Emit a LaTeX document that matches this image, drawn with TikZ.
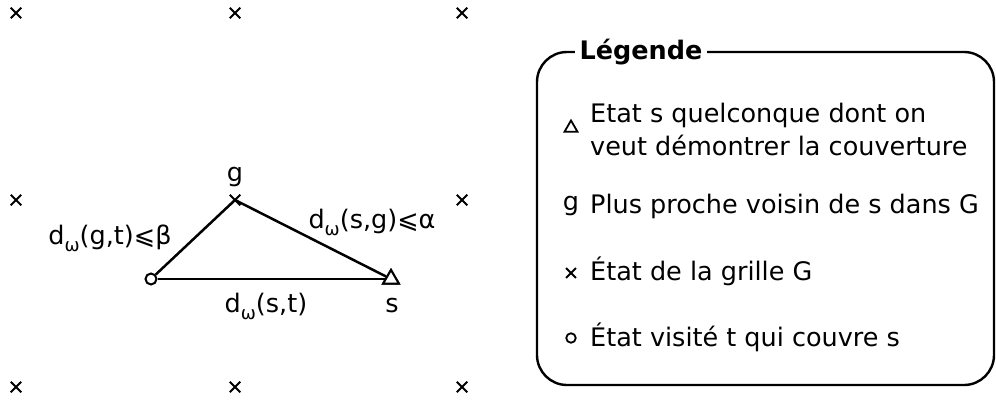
\documentclass[tikz,border=0pt]{standalone}
\usepackage{fontspec}
\setmainfont{DejaVu Sans}
\usetikzlibrary{shapes.misc,shapes.geometric}
\newcommand\dw{d\raisebox{-0.5ex}{\fontsize{18}{18}\selectfont ω}}
\tikzset{
  gridpt/.style={cross out,draw,line width=2pt,minimum size=8.5pt,inner sep=0pt},
  visited/.style={circle,draw,line width=2pt,fill=white,minimum size=11pt,inner sep=0pt},
  target/.style={regular polygon,regular polygon sides=3,draw,line width=2pt,fill=white,minimum size=18pt,inner sep=0pt},
  lbl/.style={font=\fontsize{25.5}{30}\selectfont,inner sep=0pt},
  edge/.style={line width=2.5pt},
}
\begin{document}
\begin{tikzpicture}[x=1pt,y=-1pt]
\useasboundingbox (0,0) rectangle (996,401);
% grid
\foreach \x/\i in {16/a,235/b,462/c}{
  \foreach \y/\j in {13/1,387/3}{
    \node[gridpt] (G\i\j) at (\x,\y) {};
  }
}
\node[gridpt] (Ga2) at (16,200) {};
\node[gridpt] (Gc2) at (462,200) {};
\node[gridpt] (g) at (235,200) {};
\node[visited] (t) at (151,279) {};
\node[target] (s) at (391,279) {};
\draw[edge] (t) -- (g.center) -- (s);
\draw[edge] (t) -- (s);
\node[target] at (s) {};
\node[lbl] (lg) at (235,177) {g};
\node[lbl] (ls) at (392,306) {s};
\node[lbl] (lst) at (266,306) {\dw(s,t)};
\node[lbl] (lgt) at (110,238) {\dw(g,t)⩽β};
\node[lbl] (lsg) at (372,222) {\dw(s,g)⩽α};
% legend
\draw[line width=2.4pt,rounded corners=30pt] (537,52) rectangle (994,385);
\node[lbl,fill=white,inner xsep=5pt,inner ysep=2pt,font=\fontsize{25.5}{30}\selectfont\bfseries] (title) at (641,52) {Légende};
\node[target,minimum size=15pt,line width=1.8pt] (k1) at (571,128) {};
\node[lbl,anchor=west,align=left,font=\fontsize{25.5}{33}\selectfont] (t1) at (590,129) {Etat s quelconque dont on\\veut démontrer la couverture};
\node[lbl] (k2) at (571,206) {g};
\node[lbl,anchor=west] (t2) at (590,206) {Plus proche voisin de s dans G};
\node[gridpt,minimum size=8pt,line width=1.8pt] (k3) at (571,273) {};
\node[lbl,anchor=west] (t3) at (590,271) {État de la grille G};
\node[circle,draw,line width=1.8pt,minimum size=9.5pt,inner sep=0pt] (k4) at (571,338) {};
\node[lbl,anchor=west] (t4) at (590,337) {État visité t qui couvre s};
\end{tikzpicture}
\end{document}
